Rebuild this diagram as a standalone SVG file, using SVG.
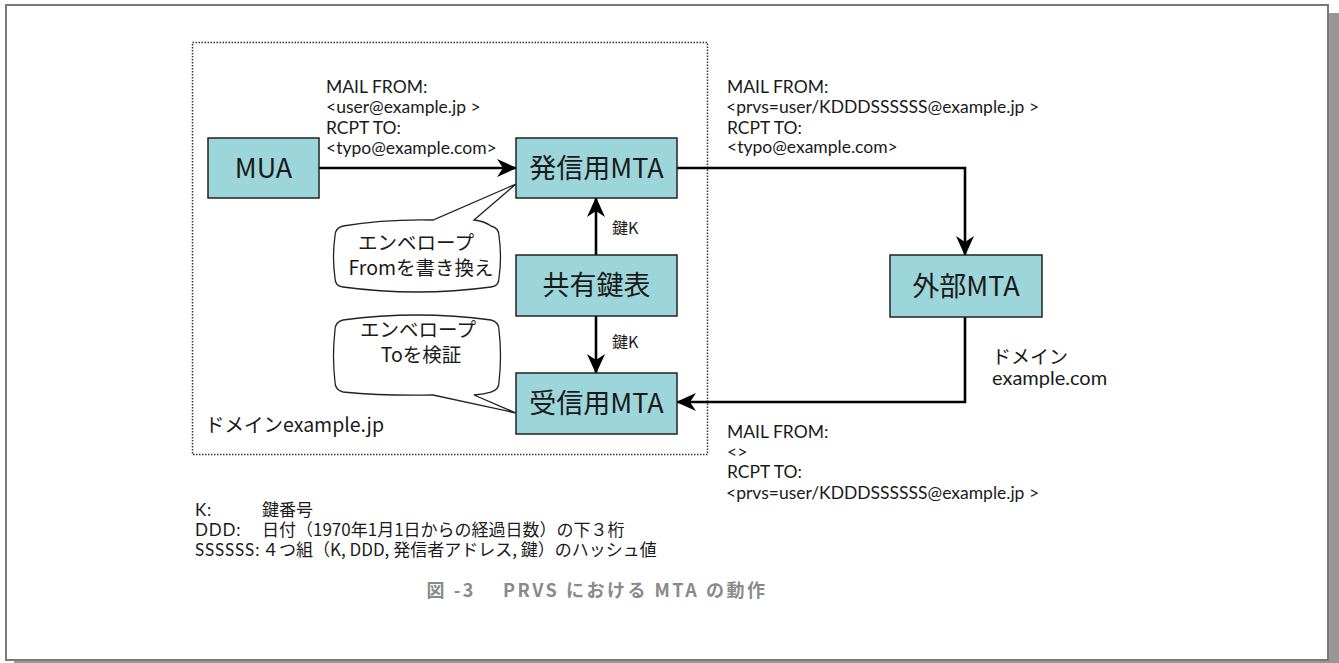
<svg xmlns="http://www.w3.org/2000/svg" width="1339" height="663" viewBox="0 0 1339 663">
<style>
text{font-family:"Noto Sans CJK JP","Noto Sans",sans-serif;fill:#1a1a1a}
.box{fill:#9dd6da;stroke:#222;stroke-width:1.5}
.big{font-size:27px;text-anchor:middle}
.sm{font-family:Lato,"Noto Sans CJK JP",sans-serif;font-size:17.5px}
.md{font-size:17px}
.lt{font-family:Lato,"Noto Sans CJK JP",sans-serif;font-size:17px;letter-spacing:0.8px}
.bt{font-size:19.5px;text-anchor:middle}
.conn{fill:none;stroke:#000;stroke-width:2.6}
.bub{fill:#fff;stroke:#222;stroke-width:1.3}
</style>
<defs>
<marker id="ah" viewBox="0 0 20 18" refX="19" refY="9" markerWidth="20" markerHeight="18" markerUnits="userSpaceOnUse" orient="auto">
<path d="M0,0 L20,9 L0,18 L6,9 Z" fill="#000"/>
</marker>
</defs>
<rect x="1329" y="13" width="10" height="650" fill="#9a9696"/>
<rect x="14" y="661" width="1325" height="2" fill="#9a9696"/>
<rect x="6" y="5" width="1322" height="655" fill="#fff" stroke="#7a7a7a" stroke-width="2"/>

<g id="domain-jp">
<rect x="192.5" y="42.5" width="515" height="412" fill="none" stroke="#333" stroke-width="1.5" stroke-dasharray="1.5 1.5"/>
<text x="205" y="432" style="font-size:19.5px">ドメインexample.jp</text>
</g>

<g id="connectors">
<line class="conn" x1="319" y1="168" x2="516" y2="168" marker-end="url(#ah)"/>
<path class="conn" d="M677,168 H965 V255" marker-end="url(#ah)"/>
<path class="conn" d="M965,317 V402 H677" marker-end="url(#ah)"/>
<path class="conn" d="M596,255 V198" marker-end="url(#ah)"/>
<path class="conn" d="M596,316 V373" marker-end="url(#ah)"/>
<text x="612" y="234" style="font-size:16px">鍵K</text>
<text x="612" y="348" style="font-size:16px">鍵K</text>
</g>

<g id="label-out">
<text class="sm"><tspan x="326" y="93">MAIL FROM:</tspan><tspan x="326" y="113">&lt;user@example.jp &gt;</tspan><tspan x="326" y="134">RCPT TO:</tspan><tspan x="326" y="154">&lt;typo@example.com&gt;</tspan></text>
</g>
<g id="label-ext">
<text class="sm"><tspan x="727" y="93">MAIL FROM:</tspan><tspan x="726" y="113">&lt;prvs=user/KDDDSSSSSS@example.jp &gt;</tspan><tspan x="727" y="134">RCPT TO:</tspan><tspan x="727" y="153">&lt;typo@example.com&gt;</tspan></text>
</g>
<g id="label-back">
<text class="sm"><tspan x="727" y="438">MAIL FROM:</tspan><tspan x="727" y="458">&lt;&gt;</tspan><tspan x="727" y="478">RCPT TO:</tspan><tspan x="726" y="499">&lt;prvs=user/KDDDSSSSSS@example.jp &gt;</tspan></text>
</g>

<g id="mua"><rect class="box" x="208" y="138" width="111" height="60"/><text class="big" x="263.5" y="178">MUA</text></g>
<g id="mta-send"><rect class="box" x="516" y="138" width="161" height="60"/><text class="big" x="596.5" y="178">発信用MTA</text></g>
<g id="keytable"><rect class="box" x="516" y="255" width="161" height="61"/><text class="big" x="596.5" y="295">共有鍵表</text></g>
<g id="mta-recv"><rect class="box" x="516" y="373" width="161" height="61"/><text class="big" x="596.5" y="413">受信用MTA</text></g>
<g id="mta-ext"><rect class="box" x="890" y="255" width="152" height="62"/><text class="big" x="966" y="296">外部MTA</text>
<text style="font-size:19px"><tspan x="992" y="364">ドメイン</tspan><tspan x="992" y="385" style="font-family:Lato,sans-serif;font-size:20px">example.com</tspan></text></g>

<g id="bubble-from">
<path class="bub" d="M343,226 Q385,219 433,220 L516,184 L474,220 Q484,221 491,226 Q499,228 499,236 Q502,257 499,278 Q499,286 491,287 Q417,297 343,287 Q335,286 335,278 Q332,257 335,236 Q335,228 343,226 Z"/>
<text class="bt"><tspan x="416" y="250">エンベロープ</tspan><tspan x="421" y="275">Fromを書き換え</tspan></text>
</g>
<g id="bubble-to">
<path class="bub" d="M343,320 Q417,310 491,320 Q499,322 499,330 Q502,356 499,382 Q499,390 491,392 Q484,394 474,395 L516,413 L433,395 Q385,396 343,392 Q335,390 335,382 Q332,356 335,330 Q335,322 343,320 Z"/>
<text class="bt"><tspan x="418" y="337">エンベロープ</tspan><tspan x="421" y="362">Toを検証</tspan></text>
</g>

<g id="legend">
<text class="lt"><tspan x="195" y="516">K:</tspan><tspan x="195" y="536">DDD:</tspan><tspan x="195" y="556">SSSSSS:</tspan></text>
<text class="md"><tspan x="262" y="516">鍵番号</tspan><tspan x="262" y="536">日付（1970年1月1日からの経過日数）の下３桁</tspan><tspan x="262" y="556">４つ組（K, DDD, 発信者アドレス, 鍵）のハッシュ値</tspan></text>
</g>
<text x="597" y="597" text-anchor="middle" style="font-size:18px;font-weight:bold;fill:#8a8a8a;letter-spacing:2.5px">図 -3　 PRVS における MTA の動作</text>
</svg>
